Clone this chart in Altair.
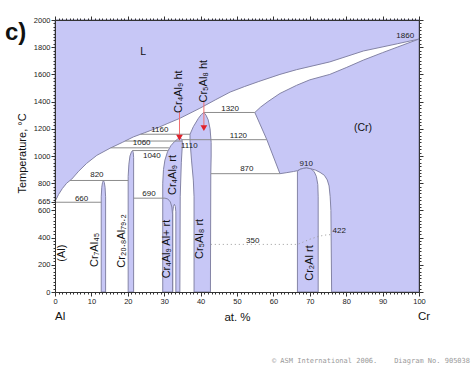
import altair as alt
import pandas as pd

FONT = "Liberation Sans, Arial, DejaVu Sans, sans-serif"
FILL = "#c7c7f6"
EDGE = "#8484a6"
ISO = "#8c8c8c"
AXC = "#333333"

# ---- liquidus / solidus ----
liq_x = [0, 1, 2, 3.2, 4.6, 6.5, 8.7, 11.5, 15.1, 18.5, 21.5, 24.5, 27.9, 31, 34.3, 39.8, 44, 48.1, 52, 56, 61.8, 66.4, 75.5, 84.7, 94, 100]
liq_t = [665, 718, 760, 800, 830, 888, 946, 1005, 1057, 1100, 1140, 1170, 1204, 1240, 1277, 1351, 1412, 1470, 1510, 1548, 1600, 1635, 1692, 1772, 1825, 1860]
sol_x = [54.9, 56.5, 58.5, 61.8, 66.4, 70, 75.5, 80, 84.7, 90, 94, 97, 100]
sol_t = [1320, 1360, 1400, 1460, 1520, 1560, 1600, 1650, 1705, 1760, 1800, 1830, 1860]

# ---- single-phase regions ----
crss_x_tail = [58.2, 61.8, 63.5, 65.5, 66.6, 67.4, 68.2, 69.1, 70.3, 71.6, 72.8, 74.0, 74.8, 75.3, 75.6, 75.8, 76.0, 100, 100]
crss_t_tail = [1120, 870, 877, 886, 892, 903, 909, 912, 906, 896, 880, 858, 824, 780, 700, 600, 0, 0, 1860]

cr7_x = [12.7, 12.7, 12.85, 13.05, 13.3, 13.55, 13.75, 13.9, 13.9]
cr7_t = [0, 700, 770, 805, 820, 805, 770, 700, 0]
cr21_x = [20.1, 20.1, 20.3, 20.6, 21.0, 21.3, 21.5, 21.6, 21.6]
cr21_t = [0, 850, 940, 1000, 1030, 1040, 1025, 990, 0]
cr49_x = [29.6, 29.6, 29.8, 30.2, 30.9, 31.8, 32.8, 33.7, 34.4, 34.9, 35.0, 34.7, 34.4, 34.3]
cr49_t = [0, 800, 900, 970, 1030, 1075, 1105, 1125, 1132, 1122, 1090, 950, 700, 0]
cr58_x = [38.2, 38.2, 38.0, 37.5, 37.1, 37.1, 38.0, 39.4, 40.2, 40.9, 41.5, 42.1, 42.6, 42.9, 42.9, 42.8, 42.7]
cr58_t = [0, 700, 823, 970, 1110, 1160, 1215, 1277, 1305, 1320, 1300, 1265, 1200, 1100, 1000, 870, 0]
cr2al_x = [66.6, 66.6, 67.3, 68.2, 69.1, 70.3, 71.2, 71.8, 72.2, 72.3, 72.3]
cr2al_t = [0, 888, 902, 909, 912, 906, 885, 850, 790, 700, 0]
gap_x = [32.35, 32.35, 32.55, 32.8, 33.05, 33.2, 33.2]
gap_t = [0, 590, 630, 645, 630, 590, 0]

# ---- isotherms ----
iso_id = ["660"] * 2 + ["820"] * 2 + ["690"] * 2 + ["1040"] * 2 + ["1060"] * 2 + ["1110"] * 2 + ["1120"] * 2 + ["1160"] * 2 + ["1320"] * 2 + ["870"] * 2
iso_x = [0, 12.7, 4.1, 20.1, 21.6, 30.2, 21.3, 31.0, 15.3, 31.3, 19.3, 34.9, 34.9, 58.2, 23.5, 37.1, 40.9, 54.9, 42.8, 61.8]
iso_t = [660, 660, 820, 820, 690, 690, 1040, 1040, 1060, 1060, 1110, 1110, 1120, 1120, 1160, 1160, 1320, 1320, 870, 870]
curve_x = [30.2, 31.0, 31.7, 32.1, 32.3, 32.3]
curve_t = [690, 684, 662, 625, 570, 0]
dot_x = [42.8, 66.6, 68.0, 70.0, 72.3, 74.0, 75.7]
dot_t = [350, 350, 365, 388, 408, 418, 422]

# ---- red arrows ----
arr_id = ["a", "a", "b", "b"]
arr_x = [34.2, 34.2, 40.9, 40.9]
arr_t = [1330, 1145, 1410, 1215]
tri_x = [34.2, 40.9]
tri_t = [1135, 1205]

# ---- labels ----
temp_lab = ["1860", "1320", "1160", "1120", "1110", "1060", "1040", "870", "910", "820", "660", "690", "350", "422"]
temp_x = [96.2, 48.1, 28.8, 50.4, 36.9, 23.8, 26.6, 52.7, 69.0, 11.5, 7.3, 25.8, 54.3, 78.1]
temp_t = [1882, 1343, 1191, 1147, 1074, 1093, 1002, 902, 941, 860, 684, 720, 377, 451]

phase_lab = ["(Al)", "Cr₇Al₄₅", "Cr₂₀.₈Al₇₉.₂", "Cr₄Al₉ Al+ rt", "Cr₄Al₉ rt", "Cr₅Al₈ rt", "Cr₂Al rt", "Cr₄Al₉ ht", "Cr₅Al₈ ht"]
phase_x = [1.9, 11.0, 18.3, 30.7, 32.5, 39.8, 70.0, 34.2, 40.9]
phase_t = [285, 309, 375, 316, 860, 390, 213, 1473, 1550]

big_lab = ["L", "(Cr)"]
big_x = [24.2, 84.6]
big_t = [1765, 1206]

end_lab = ["Al", "Cr"]
end_x = [0, 99.7]
end_t = [0, 0]

x_ticks = list(range(0, 101))
y_ticks = sorted(list(range(0, 2001, 25)) + [665])


def poly(name, xs, ts, close=True):
    xs = list(xs)
    ts = list(ts)
    if close:
        xs = xs + [xs[0]]
        ts = ts + [ts[0]]
    return pd.DataFrame({"region": name, "i": range(len(xs)), "x": xs, "t": ts})


df_L = poly("L", [0] + liq_x + [100], [2000] + liq_t + [2000])
df_cr = poly("Cr", sol_x[::-1] + crss_x_tail, sol_t[::-1] + crss_t_tail)
df_ph = pd.concat([
    poly("cr7", cr7_x, cr7_t),
    poly("cr21", cr21_x, cr21_t),
    poly("cr49", cr49_x, cr49_t),
    poly("cr58", cr58_x, cr58_t),
    poly("cr2al", cr2al_x, cr2al_t),
])
df_gap = poly("gap", gap_x, gap_t, close=False)
df_iso = pd.DataFrame({"id": iso_id, "x": iso_x, "t": iso_t})
df_iso["i"] = range(len(df_iso))
df_curve = pd.DataFrame({"x": curve_x, "t": curve_t, "i": range(len(curve_x))})
df_dot = pd.DataFrame({"x": dot_x, "t": dot_t, "i": range(len(dot_x))})
df_arr = pd.DataFrame({"id": arr_id, "x": arr_x, "t": arr_t})
df_tri = pd.DataFrame({"x": tri_x, "t": tri_t})
df_temp = pd.DataFrame({"label": temp_lab, "x": temp_x, "t": temp_t})
df_phase = pd.DataFrame({"label": phase_lab, "x": phase_x, "t": phase_t})
df_big = pd.DataFrame({"label": big_lab, "x": big_x, "t": big_t})
df_end = pd.DataFrame({"label": end_lab, "x": end_x, "t": end_t})
df_one = pd.DataFrame({"a": [0]})

SX = alt.Scale(domain=[0, 100], nice=False, zero=False)
SY = alt.Scale(domain=[0, 2000], nice=False, zero=False)

x_major = "datum.value % 10 === 0"
y_major = "(datum.value % 200 === 0 || datum.value === 665)"

ax_bottom = alt.Axis(
    orient="bottom", values=x_ticks, format="d",
    labelExpr=f"{x_major} ? datum.label : ''", labelOverlap=False, labelFlush=False,
    tickSize={"condition": {"test": x_major, "value": 4}, "value": 2},
    title="at. %", titleFont=FONT, titleFontSize=11.5, titleFontWeight="normal",
    titleY=28, titleBaseline="alphabetic", titleColor="#111",
    labelFont=FONT, labelFontSize=7.5, labelPadding=1, labelColor="#222",
    domainColor=AXC, tickColor=AXC, grid=False, zindex=1,
)
ax_left = alt.Axis(
    orient="left", values=y_ticks, format="d",
    labelExpr=f"{y_major} ? datum.label : ''", labelOverlap=False, labelFlush=False,
    tickSize={"condition": {"test": y_major, "value": 4}, "value": 2},
    title="Temperature, °C", titleFont=FONT, titleFontSize=11, titleFontWeight="normal",
    titleAngle=270, titleX=-30, titleY=133, titleAlign="center", titleBaseline="alphabetic",
    titleColor="#111",
    labelFont=FONT, labelFontSize=7.5, labelPadding=1, labelColor="#222",
    domainColor=AXC, tickColor=AXC, grid=False, zindex=1,
)
ax_top = alt.Axis(
    orient="top", values=x_ticks, labels=False, title=None,
    tickSize={"condition": {"test": x_major, "value": 4}, "value": 2},
    domainColor=AXC, tickColor=AXC, grid=False, zindex=1,
)
ax_right = alt.Axis(
    orient="right", values=list(range(0, 2001, 25)), labels=False, title=None,
    tickSize={"condition": {"test": "datum.value % 200 === 0", "value": 4}, "value": 2},
    domainColor=AXC, tickColor=AXC, grid=False, zindex=1,
)


def X(axis=None):
    return alt.X("x:Q", scale=SX, axis=axis)


def Y(axis=None):
    return alt.Y("t:Q", scale=SY, axis=axis)


liquid = alt.Chart(df_L).mark_line(fill=FILL, stroke=EDGE, strokeWidth=1).encode(
    x=X(ax_bottom), y=Y(ax_left), order="i:Q")
crss = alt.Chart(df_cr).mark_line(fill=FILL, stroke=EDGE, strokeWidth=1).encode(
    x=X(ax_top), y=Y(ax_right), order="i:Q")
phases = alt.Chart(df_ph).mark_line(fill=FILL, stroke=EDGE, strokeWidth=1).encode(
    x=X(), y=Y(), order="i:Q", detail="region:N")
gap = alt.Chart(df_gap).mark_line(fill="white", stroke=EDGE, strokeWidth=1).encode(
    x=X(), y=Y(), order="i:Q")
iso = alt.Chart(df_iso).mark_line(stroke=ISO, strokeWidth=1).encode(
    x=X(), y=Y(), order="i:Q", detail="id:N")
curve = alt.Chart(df_curve).mark_line(stroke=EDGE, strokeWidth=1).encode(
    x=X(), y=Y(), order="i:Q")
dots = alt.Chart(df_dot).mark_line(stroke="#9a9a9a", strokeWidth=1, strokeDash=[1, 3]).encode(
    x=X(), y=Y(), order="i:Q")
arrows = alt.Chart(df_arr).mark_line(stroke="#f07070", strokeWidth=1).encode(
    x=X(), y=Y(), detail="id:N")
tris = alt.Chart(df_tri).mark_point(shape="triangle-down", filled=True, color="#e0202a",
                                    size=45, opacity=1).encode(x=X(), y=Y())
temps = alt.Chart(df_temp).mark_text(font=FONT, fontSize=8, color="#222").encode(
    x=X(), y=Y(), text="label:N")
phase_txt = alt.Chart(df_phase).mark_text(font=FONT, fontSize=11, color="#111", angle=270,
                                          align="center", baseline="middle").encode(
    x=X(), y=Y(), text="label:N")
big_txt = alt.Chart(df_big).mark_text(font=FONT, fontSize=10.5, color="#111").encode(
    x=X(), y=Y(), text="label:N")
end_txt = alt.Chart(df_end).mark_text(font=FONT, fontSize=11.5, color="#111", align="left",
                                      baseline="alphabetic", dy=28).encode(
    x=X(), y=Y(), text="label:N")
c_txt = alt.Chart(df_one).mark_text(font=FONT, fontSize=24, fontWeight="bold", color="#111",
                                    align="left", baseline="alphabetic").encode(
    x=alt.value(-50), y=alt.value(20), text=alt.value("c)"))
copy_txt = alt.Chart(df_one).mark_text(font="DejaVu Sans Mono", fontSize=7, color="#9a9a9a",
                                       align="right", baseline="alphabetic").encode(
    x=alt.value(415), y=alt.value(343),
    text=alt.value("© ASM International 2006.\u00a0\u00a0\u00a0\u00a0Diagram No. 905038"))

chart = alt.layer(
    liquid, crss, phases, gap, iso, curve, dots, arrows, tris,
    temps, phase_txt, big_txt, end_txt, c_txt, copy_txt,
).properties(
    width=364, height=272,
    autosize=alt.AutoSizeParams(type="none"),
    padding={"left": 55, "top": 20, "right": 55, "bottom": 79},
    background="white",
).configure_view(stroke=None)

chart.save("out.html", embed_options={"renderer": "svg", "actions": False})
